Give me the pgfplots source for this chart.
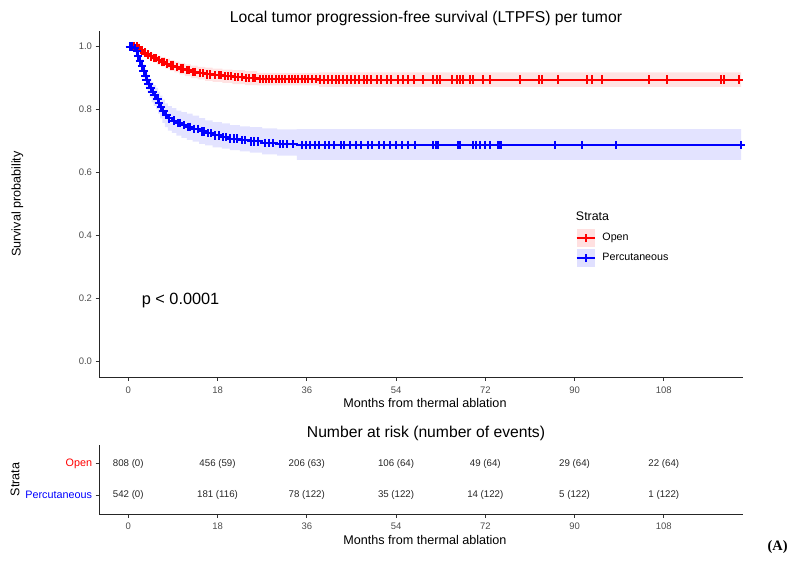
\documentclass[border=0pt]{standalone}
\usepackage{fontspec}
\setmainfont{Liberation Sans}
\newfontfamily\seriffont{Liberation Serif}
\usepackage{pgfplots}
\pgfplotsset{compat=1.18}
\usepackage{pgfplotstable}
\usepgfplotslibrary{fillbetween}

\definecolor{tickgray}{HTML}{4D4D4D}

% Kaplan-Meier steps: time, survival, lower and upper confidence limit
\pgfplotstableread{
t s lo hi
0 1 1 1
2 0.995 0.989 1.000
2.5 0.988 0.980 0.996
3 0.981 0.971 0.991
3.7 0.975 0.964 0.986
4.3 0.969 0.957 0.981
5 0.963 0.950 0.976
5.8 0.957 0.943 0.971
6.6 0.952 0.937 0.967
7.5 0.946 0.930 0.962
8.4 0.940 0.923 0.957
9.3 0.935 0.918 0.952
10.3 0.930 0.912 0.948
11.4 0.925 0.906 0.944
12.6 0.920 0.900 0.940
14 0.916 0.896 0.936
15.5 0.912 0.891 0.933
17 0.909 0.888 0.930
19 0.906 0.885 0.927
21 0.903 0.881 0.925
23.5 0.900 0.878 0.922
26 0.897 0.877 0.917
38.5 0.895 0.872 0.918
123.6 0.895 0.872 0.918
}\openkm

\pgfplotstableread{
t s lo hi
0 1 1 1
1.0 0.996 0.988 1.000
1.5 0.985 0.975 0.995
1.9 0.970 0.956 0.984
2.3 0.955 0.938 0.972
2.6 0.940 0.920 0.960
3.0 0.922 0.899 0.945
3.3 0.906 0.881 0.931
3.6 0.894 0.867 0.921
3.9 0.882 0.853 0.911
4.3 0.868 0.838 0.898
4.7 0.855 0.823 0.887
5.1 0.845 0.812 0.878
5.6 0.835 0.801 0.869
6.0 0.822 0.787 0.857
6.4 0.808 0.772 0.844
6.9 0.795 0.758 0.832
7.4 0.782 0.744 0.820
8.0 0.772 0.733 0.811
8.8 0.765 0.726 0.805
9.7 0.757 0.717 0.797
10.7 0.751 0.710 0.792
11.8 0.745 0.704 0.787
13.0 0.739 0.698 0.781
14.3 0.731 0.691 0.773
15.5 0.725 0.686 0.766
17.0 0.718 0.680 0.760
18.9 0.713 0.676 0.756
20.5 0.708 0.671 0.751
22.5 0.703 0.667 0.747
24.5 0.699 0.663 0.744
27.0 0.694 0.658 0.740
30.0 0.690 0.654 0.737
34.0 0.687 0.640 0.738
123.6 0.687 0.640 0.738
}\perckm

% censored observations
\pgfplotstableread{
t s
0.5 1.0
1.2 1.0
1.8 1.0
2.2 0.995
2.8 0.988
3.3 0.981
3.9 0.975
4.5 0.969
5.2 0.963
5.5 0.963
6.1 0.957
6.8 0.952
7.2 0.952
7.9 0.946
8.6 0.940
9.0 0.940
9.8 0.935
10.6 0.930
11.0 0.930
11.8 0.925
12.3 0.925
13.1 0.920
13.5 0.920
14.4 0.916
15.0 0.916
15.8 0.912
16.4 0.912
17.5 0.909
18.2 0.909
18.7 0.909
19.5 0.906
20.2 0.906
20.8 0.906
21.5 0.903
22.2 0.903
22.9 0.903
23.8 0.900
24.4 0.900
25.1 0.900
25.6 0.900
26.5 0.897
27.1 0.897
27.8 0.897
28.4 0.897
29.0 0.897
29.7 0.897
30.3 0.897
31.0 0.897
31.6 0.897
32.4 0.897
33.0 0.897
33.7 0.897
34.3 0.897
35.0 0.897
35.6 0.897
36.3 0.897
37.1 0.897
37.8 0.897
38.7 0.895
39.5 0.895
40.2 0.895
41.0 0.895
41.8 0.895
42.5 0.895
43.3 0.895
44.1 0.895
45.0 0.895
45.8 0.895
46.6 0.895
47.5 0.895
48.2 0.895
49.0 0.895
50.1 0.895
51.0 0.895
52.2 0.895
53.0 0.895
54.4 0.895
55.3 0.895
56.5 0.895
57.6 0.895
59.4 0.895
61.4 0.895
62.2 0.895
62.8 0.895
65.2 0.895
66.2 0.895
66.8 0.895
67.4 0.895
68.9 0.895
69.5 0.895
71.5 0.895
72.9 0.895
78.9 0.895
82.9 0.895
83.5 0.895
86.7 0.895
92.6 0.895
93.6 0.895
95.5 0.895
105.1 0.895
108.6 0.895
119.6 0.895
120.2 0.895
123.2 0.895
}\opencens

\pgfplotstableread{
t s
0.3 1.0
0.8 1.0
1.3 0.996
1.7 0.985
2.0 0.970
2.4 0.955
2.8 0.940
3.1 0.922
3.5 0.906
3.7 0.894
4.1 0.882
4.5 0.868
4.9 0.855
5.3 0.845
5.9 0.835
6.2 0.822
6.6 0.808
7.1 0.795
7.7 0.782
8.3 0.772
9.2 0.765
10.0 0.757
10.4 0.757
11.2 0.751
12.0 0.745
12.5 0.745
13.3 0.739
14.0 0.739
14.8 0.731
15.2 0.731
16.0 0.725
16.6 0.725
17.4 0.718
18.3 0.718
19.2 0.713
19.8 0.713
20.6 0.708
21.3 0.708
21.9 0.708
23.0 0.703
23.6 0.703
24.8 0.699
25.4 0.699
26.2 0.699
27.5 0.694
28.3 0.694
29.1 0.694
30.5 0.690
31.3 0.690
32.0 0.690
33.2 0.690
35.0 0.687
35.8 0.687
36.6 0.687
37.6 0.687
38.5 0.687
39.6 0.687
40.4 0.687
41.5 0.687
42.8 0.687
43.6 0.687
44.8 0.687
46.0 0.687
47.0 0.687
48.3 0.687
49.2 0.687
50.5 0.687
51.6 0.687
52.8 0.687
54.0 0.687
55.1 0.687
56.5 0.687
57.8 0.687
61.5 0.687
62.1 0.687
62.5 0.687
66.5 0.687
66.8 0.687
69.5 0.687
70.2 0.687
70.9 0.687
71.9 0.687
72.9 0.687
74.6 0.687
74.9 0.687
75.2 0.687
86.0 0.687
91.4 0.687
98.4 0.687
123.6 0.687
}\perccens

\pgfplotsset{
  ggaxis/.style={
    scale only axis,
    width=643.7pt,
    xmin=-5.85, xmax=123.9,
    xtick={0,18,36,54,72,90,108},
    axis x line*=bottom, axis y line*=left,
    axis line style={-, line width=0.9pt, black!85},
    tick align=outside,
    major tick length=3.7pt,
    tick style={line width=0.9pt, black!80},
    tick label style={font=\fontsize{9.5}{11}\selectfont, text=tickgray},
    xticklabel style={yshift=-2pt},
    /pgf/number format/assume math mode=true,
    xlabel={Months from thermal ablation},
    xlabel style={font=\fontsize{12.6}{15}\selectfont, at={(axis description cs:0.5,0)}, anchor=base, yshift=-30pt, xshift=4pt},
    every axis title shift=0pt,
    title style={font=\fontsize{15.7}{18}\selectfont, at={(axis description cs:0.5,1)}, anchor=base, xshift=5pt},
    clip=false,
  },
  censmark/.style={only marks, mark=+, mark size=4.2pt, mark options={line width=2pt}, forget plot},
}

\begin{document}
\begin{tikzpicture}
\path (0pt,0pt) rectangle (791pt,561pt);

\begin{axis}[
  ggaxis,
  at={(99.3pt,183.6pt)}, anchor=south west,
  height=346.5pt,
  ymin=-0.05, ymax=1.05,
  ytick={0,0.2,0.4,0.6,0.8,1.0},
  yticklabel style={/pgf/number format/.cd, fixed, fixed zerofill, precision=1},
  ylabel={Survival probability},
  ylabel style={font=\fontsize{12.6}{15}\selectfont, at={(axis description cs:0,0.5)}, anchor=center, yshift=82pt},
  title={Local tumor progression-free survival (LTPFS) per tumor},
  title style={yshift=8.4pt},
  legend style={at={(axis description cs:0.7406,0.4283)}, anchor=north west,
    draw=none, fill=none, inner sep=0pt, outer sep=0pt,
    font=\fontsize{10.7}{12}\selectfont, row sep=2pt,
    nodes={inner sep=0pt, outer sep=0pt}},
  legend cell align=left,
]
% confidence bands
\addplot[name path=ohi, draw=none, const plot, forget plot] table[x=t, y=hi] {\openkm};
\addplot[name path=olo, draw=none, const plot, forget plot] table[x=t, y=lo] {\openkm};
\addplot[fill=red, fill opacity=0.11, draw=none, forget plot] fill between[of=ohi and olo];
\addplot[name path=phi, draw=none, const plot, forget plot] table[x=t, y=hi] {\perckm};
\addplot[name path=plo, draw=none, const plot, forget plot] table[x=t, y=lo] {\perckm};
\addplot[fill=blue, fill opacity=0.11, draw=none, forget plot] fill between[of=phi and plo];
% survival curves
\addplot[red, line width=1.9pt, const plot, forget plot] table[x=t, y=s] {\openkm};
\addplot[red, censmark] table[x=t, y=s] {\opencens};
\addplot[blue, line width=1.9pt, const plot, forget plot] table[x=t, y=s] {\perckm};
\addplot[blue, censmark] table[x=t, y=s] {\perccens};

\node[anchor=base west, inner sep=0pt, font=\fontsize{16.3}{19}\selectfont] at (axis cs:2.7,0.18) {p < 0.0001};
\node[anchor=west, inner sep=0pt, font=\fontsize{12.4}{14}\selectfont] at (axis description cs:0.7406,0.4638) {Strata};

\addlegendimage{legend image code/.code={
  \fill[red, fill opacity=0.12, draw=none] (0pt,-9pt) rectangle (18pt,9pt);
  \draw[red, line width=1.9pt] (0pt,0pt) -- (18pt,0pt);
  \draw[red, line width=2pt] (9pt,-4.2pt) -- (9pt,4.2pt);
  \path[draw=none, fill=none] (0pt,0pt) -- (25.7pt,0pt);}}
\addlegendentry{Open}
\addlegendimage{legend image code/.code={
  \fill[blue, fill opacity=0.12, draw=none] (0pt,-9pt) rectangle (18pt,9pt);
  \draw[blue, line width=1.9pt] (0pt,0pt) -- (18pt,0pt);
  \draw[blue, line width=2pt] (9pt,-4.2pt) -- (9pt,4.2pt);
  \path[draw=none, fill=none] (0pt,0pt) -- (25.7pt,0pt);}}
\addlegendentry{Percutaneous}
\end{axis}

\begin{axis}[
  ggaxis,
  at={(99.3pt,46.7pt)}, anchor=south west,
  height=69.3pt,
  ymin=0.4, ymax=2.6,
  ytick={1,2},
  yticklabels={\textcolor{blue}{Percutaneous}, \textcolor{red}{Open}},
  yticklabel style={font=\fontsize{10.8}{12}\selectfont},
  ylabel={Strata},
  ylabel style={font=\fontsize{12.6}{15}\selectfont, at={(axis description cs:0,0.5)}, anchor=center, yshift=84.3pt},
  title={Number at risk (number of events)},
  title style={yshift=7.4pt},
]
\addplot[only marks, mark=*, mark size=0pt, mark options={draw=none},
  nodes near coords, nodes near coords align=center, point meta=explicit symbolic,
  every node near coord/.append style={font=\fontsize{9.7}{11}\selectfont, text=black!85, inner sep=0pt}]
  coordinates {
  (0,2) [808 (0)] (18,2) [456 (59)] (36,2) [206 (63)] (54,2) [106 (64)]
  (72,2) [49 (64)] (90,2) [29 (64)] (108,2) [22 (64)]
  (0,1) [542 (0)] (18,1) [181 (116)] (36,1) [78 (122)] (54,1) [35 (122)]
  (72,1) [14 (122)] (90,1) [5 (122)] (108,1) [1 (122)]
  };
\end{axis}

\node[font=\seriffont\bfseries\fontsize{14.4}{16}\selectfont, anchor=center] at (778pt,14pt) {(A)};
\end{tikzpicture}
\end{document}
